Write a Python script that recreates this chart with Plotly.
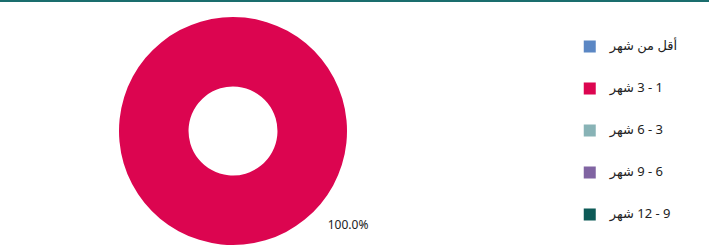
import plotly.graph_objects as go

categories = ["أقل من شهر", "1 - 3 شهر", "3 - 6 شهر", "6 - 9 شهر", "9 - 12 شهر"]
values = [0, 100, 0, 0, 0]
colors = ["#5b87c4", "#dc0550", "#88b3b6", "#8064a2", "#0d5a57"]

total = sum(values)
pad = "\u00a0" * 6
pct_text = ["" if v == 0 else pad + f"{100 * v / total:.1f}%" for v in values]

legend_labels = [
    "\u00a0<br><span style='font-size:13px'>\u200f" + c + "</span><br>\u00a0"
    for c in categories
]

W, H = 709, 248
cx, cy, r = 233, 131, 114
half_w = 165

fig = go.Figure(
    go.Pie(
        labels=legend_labels,
        values=values,
        text=pct_text,
        hole=0.39,
        sort=False,
        direction="clockwise",
        rotation=321,
        marker=dict(colors=colors),
        textinfo="text",
        textposition="outside",
        textfont=dict(size=12, color="#222222", family="Noto Sans"),
        domain=dict(x=[(cx - half_w) / W, (cx + half_w) / W],
                    y=[(H - (cy + r)) / H, (H - (cy - r)) / H]),
        showlegend=True,
        hoverinfo="label+percent",
    )
)

fig.update_layout(
    width=W,
    height=H,
    margin=dict(l=0, r=0, t=0, b=0, autoexpand=False),
    paper_bgcolor="white",
    plot_bgcolor="white",
    font=dict(family="DejaVu Sans, Noto Sans", color="#222222"),
    legend=dict(
        x=0.8036,
        y=0.474,
        xanchor="left",
        yanchor="middle",
        font=dict(size=10, color="#222222", family="Noto Sans, DejaVu Sans"),
        traceorder="normal",
    ),
    shapes=[
        dict(
            type="rect",
            xref="paper",
            yref="paper",
            x0=0,
            x1=1,
            y0=1 - 2 / H,
            y1=1,
            line=dict(width=0),
            fillcolor="#1a6d6d",
        )
    ],
)

fig.write_html(
    "out.html",
    config={"displayModeBar": False},
    post_script="document.body.style.margin='0';",
)
